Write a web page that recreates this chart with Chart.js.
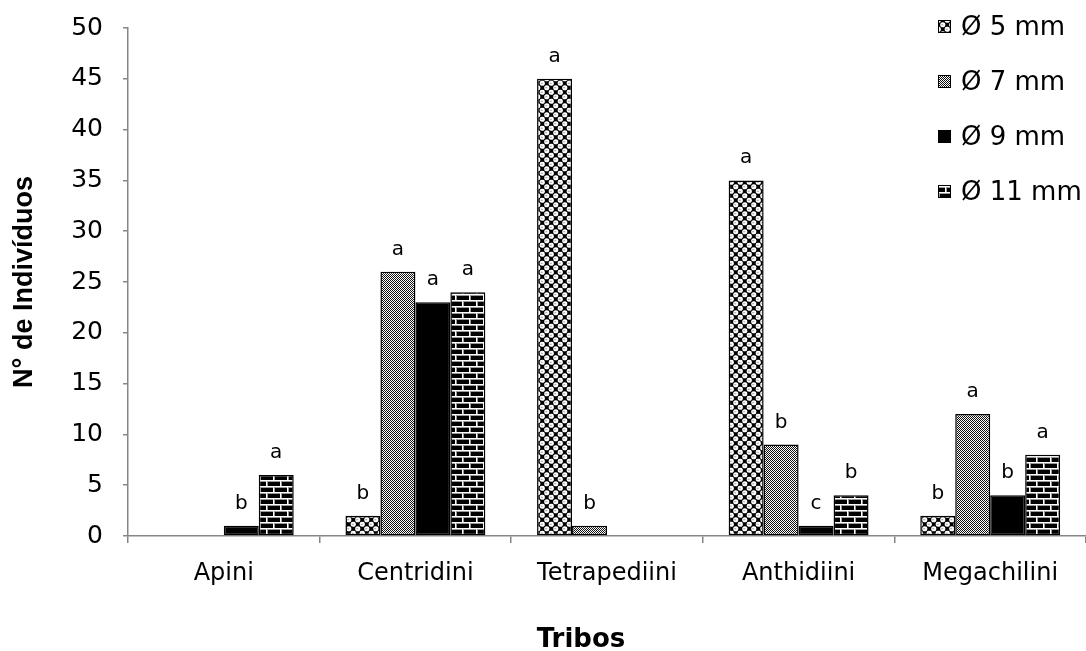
<!DOCTYPE html>
<html><head><meta charset="utf-8">
<script src="https://cdn.jsdelivr.net/npm/chart.js@4.4.0/dist/chart.umd.min.js"></script>
<style>html,body{margin:0;padding:0;background:#fff;overflow:hidden}</style>
</head><body>
<canvas id="c" width="1086" height="651"></canvas>
<script>
// ---- data ----
const categories = ['Apini', 'Centridini', 'Tetrapediini', 'Anthidiini', 'Megachilini'];
const seriesNames = ['Ø 5 mm', 'Ø 7 mm', 'Ø 9 mm', 'Ø 11 mm'];
const values5mm  = [0, 2, 45, 35, 2];
const values7mm  = [0, 26, 1, 9, 12];
const values9mm  = [1, 23, 0, 1, 4];
const values11mm = [6, 24, 0, 4, 8];
const letters5mm  = ['', 'b', 'a', 'a', 'b'];
const letters7mm  = ['', 'a', 'b', 'b', 'a'];
const letters9mm  = ['b', 'a', '', 'c', 'b'];
const letters11mm = ['a', 'a', '', 'b', 'a'];
const yMin = 0, yMax = 50, yStep = 5;
const xTitle = 'Tribos';
const yTitle = 'N° de Indivíduos';

// ---- patterns ----
function makePattern(w, h, draw) {
  const c = document.createElement('canvas');
  c.width = w; c.height = h;
  const g = c.getContext('2d');
  draw(g);
  return document.getElementById('c').getContext('2d').createPattern(c, 'repeat');
}
const pat5 = makePattern(9, 9, g => {
  g.fillStyle = '#000'; g.fillRect(0, 0, 9, 9);
  const circ = (cx, cy) => {
    g.fillStyle = '#fff'; g.beginPath(); g.arc(cx, cy, 2.6, 0, Math.PI * 2); g.fill();
    g.fillStyle = '#999'; g.fillRect(cx - 1.5, cy - 0.5, 2, 1);
  };
  [[2.25, 2.25], [6.75, 6.75], [11.25, 2.25], [2.25, 11.25], [-2.25, 6.75], [6.75, -2.25]].forEach(([x, y]) => circ(x, y));
});
const pat7 = makePattern(2, 2, g => {
  g.fillStyle = '#fff'; g.fillRect(0, 0, 2, 2);
  g.fillStyle = '#111'; g.fillRect(0, 0, 1, 1); g.fillRect(1, 1, 1, 1);
});
const pat11 = makePattern(14, 12, g => {
  g.fillStyle = '#000'; g.fillRect(0, 0, 14, 12);
  g.fillStyle = '#999';
  g.fillRect(0, 1, 14, 1); g.fillRect(0, 7, 14, 1);
  g.fillRect(1, 0, 1, 6); g.fillRect(8, 6, 1, 6);
  g.fillStyle = '#fff';
  g.fillRect(0, 0, 14, 1); g.fillRect(0, 6, 14, 1);
  g.fillRect(0, 0, 1, 6); g.fillRect(7, 6, 1, 6);
});
const fills = [pat5, pat7, '#000', pat11];
const seriesValues = [values5mm, values7mm, values9mm, values11mm];
const seriesLetters = [letters5mm, letters7mm, letters9mm, letters11mm];

const letterPlugin = {
  id: 'letters',
  afterDatasetsDraw(chart) {
    const ctx = chart.ctx;
    ctx.save();
    ctx.font = '20px "DejaVu Sans"';
    ctx.fillStyle = '#000';
    ctx.textAlign = 'center';
    ctx.textBaseline = 'alphabetic';
    chart.data.datasets.forEach((ds, i) => {
      const meta = chart.getDatasetMeta(i);
      meta.data.forEach((bar, j) => {
        const t = ds.letters[j];
        if (t) ctx.fillText(t, bar.x, bar.y - 17);
      });
    });
    ctx.restore();
  }
};

const legendPlugin = {
  id: 'customLegend',
  afterDraw(chart) {
    const ctx = chart.ctx;
    const ys = [27, 82, 137, 192];
    ctx.save();
    chart.data.datasets.forEach((ds, i) => {
      const y = ys[i];
      ctx.fillStyle = ds.backgroundColor;
      ctx.fillRect(938, y - 7, 13, 13);
      ctx.strokeStyle = '#000'; ctx.lineWidth = 1;
      ctx.strokeRect(938.5, y - 6.5, 12, 12);
      ctx.fillStyle = '#000';
      ctx.font = '26px "DejaVu Sans"';
      ctx.textAlign = 'left';
      ctx.textBaseline = 'middle';
      ctx.fillText(ds.label, 961, y + 1);
    });
    ctx.font = 'bold 26px "DejaVu Sans"';
    ctx.textAlign = 'center';
    ctx.textBaseline = 'alphabetic';
    ctx.fillText(xTitle, 581, 647);
    ctx.restore();
  }
};

new Chart(document.getElementById('c'), {
  type: 'bar',
  data: {
    labels: categories,
    datasets: seriesNames.map((n, i) => ({
      label: n,
      data: seriesValues[i],
      letters: seriesLetters[i],
      backgroundColor: fills[i],
      borderColor: '#000',
      borderWidth: 1.5,
      borderSkipped: false,
      categoryPercentage: 0.73,
      barPercentage: 1.0
    }))
  },
  options: {
    responsive: false,
    animation: false,
    layout: { autoPadding: false, padding: { top: 0, right: 0, bottom: 0, left: 0 } },
    plugins: { legend: { display: false }, tooltip: { enabled: false } },
    scales: {
      x: {
        offset: true,
        grid: { offset: true, drawOnChartArea: false, tickLength: 7, color: '#868686', lineWidth: 1.5 },
        border: { color: '#868686', width: 1.5 },
        ticks: { color: '#000', font: { family: 'DejaVu Sans', size: 24 }, padding: 16, maxRotation: 0, autoSkip: false },
        afterFit: s => { s.height = 115; }
      },
      y: {
        min: yMin, max: yMax,
        ticks: { stepSize: yStep, color: '#000', font: { family: 'DejaVu Sans', size: 25 }, padding: 20 },
        grid: { drawOnChartArea: false, tickLength: 5, color: '#868686', lineWidth: 1.5 },
        border: { color: '#868686', width: 1.5 },
        title: { display: true, text: yTitle, color: '#000', font: { family: 'Liberation Sans', weight: 'bold', size: 27 }, padding: { top: 8, bottom: 0 } },
        afterFit: s => { s.width = 128; s.paddingTop = 28; }
      }
    }
  },
  plugins: [letterPlugin, legendPlugin]
});
</script>
</body></html>
